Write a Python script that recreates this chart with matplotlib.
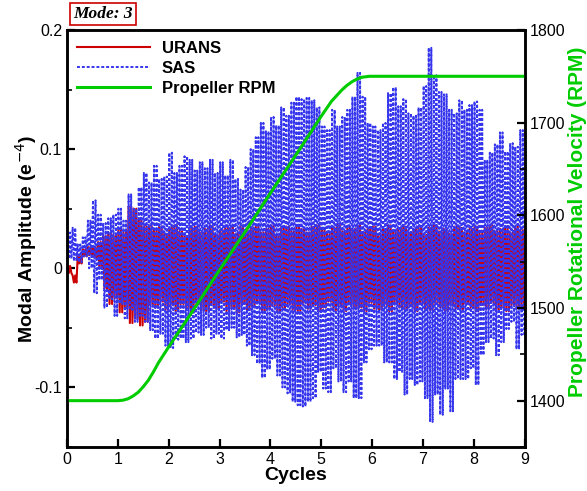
import numpy as np
import matplotlib
matplotlib.use('Agg')
import matplotlib.pyplot as plt
from matplotlib.ticker import MultipleLocator

plt.rcParams['font.family'] = ['Liberation Sans', 'DejaVu Sans']

# envelope read every 0.1 cycle: peak and trough of the oscillations in that window
window = 0.1
osc_per_window = 2

sas_peak = [0.030, 0.034, 0.020, 0.026, 0.040, 0.057, 0.045, 0.038, 0.042, 0.045,
            0.050, 0.040, 0.062, 0.050, 0.068, 0.080, 0.072, 0.086, 0.075, 0.077,
            0.097, 0.080, 0.086, 0.094, 0.091, 0.082, 0.089, 0.084, 0.091, 0.080,
            0.089, 0.078, 0.091, 0.075, 0.066, 0.085, 0.100, 0.110, 0.122, 0.115,
            0.127, 0.120, 0.135, 0.128, 0.139, 0.144, 0.142, 0.143, 0.141, 0.135,
            0.119, 0.116, 0.133, 0.119, 0.127, 0.133, 0.144, 0.164, 0.144, 0.122,
            0.119, 0.116, 0.122, 0.147, 0.152, 0.136, 0.142, 0.130, 0.128, 0.135,
            0.153, 0.185, 0.162, 0.148, 0.146, 0.133, 0.130, 0.141, 0.133, 0.137,
            0.140, 0.133, 0.091, 0.097, 0.104, 0.114, 0.098, 0.105, 0.102, 0.116]
sas_trough = [0.008, 0.006, 0.005, 0.010, 0.000, -0.021, -0.010, -0.033, -0.026, -0.040,
              -0.030, -0.042, -0.035, -0.045, -0.040, -0.045, -0.052, -0.059, -0.055, -0.065,
              -0.067, -0.060, -0.059, -0.062, -0.059, -0.054, -0.056, -0.050, -0.059, -0.055,
              -0.059, -0.052, -0.050, -0.058, -0.056, -0.065, -0.073, -0.080, -0.092, -0.085,
              -0.076, -0.090, -0.100, -0.105, -0.112, -0.115, -0.116, -0.112, -0.109, -0.087,
              -0.101, -0.104, -0.084, -0.095, -0.104, -0.095, -0.109, -0.109, -0.079, -0.068,
              -0.065, -0.065, -0.079, -0.079, -0.093, -0.087, -0.106, -0.093, -0.098, -0.095,
              -0.109, -0.129, -0.106, -0.123, -0.101, -0.120, -0.093, -0.093, -0.093, -0.084,
              -0.098, -0.073, -0.062, -0.059, -0.073, -0.062, -0.051, -0.045, -0.068, -0.056]

urans_peak = [0.002, -0.006, 0.010, 0.016, 0.018, 0.017, 0.022, 0.027, 0.030, 0.028,
              0.033, 0.030, 0.052, 0.050, 0.041, 0.035, 0.036,
              0.032, 0.035, 0.029, 0.034, 0.036, 0.031, 0.027, 0.034, 0.035, 0.030,
              0.033, 0.036, 0.028, 0.032, 0.035, 0.034, 0.029, 0.036, 0.031, 0.034,
              0.035, 0.030, 0.033, 0.036, 0.028, 0.034, 0.035, 0.031, 0.036, 0.033,
              0.030, 0.035, 0.036, 0.032, 0.029, 0.034, 0.037, 0.031, 0.035, 0.033,
              0.036, 0.030, 0.034, 0.035, 0.029, 0.033, 0.036, 0.031, 0.034, 0.035,
              0.030, 0.033, 0.035, 0.028, 0.034, 0.036, 0.031, 0.033, 0.029, 0.035,
              0.034, 0.030, 0.033, 0.035, 0.029, 0.034, 0.036, 0.031, 0.033, 0.034,
              0.030, 0.035, 0.032]
urans_trough = [-0.004, -0.012, 0.004, 0.010, 0.011, 0.009, 0.000, -0.017, -0.030, -0.025,
                -0.037, -0.033, -0.046, -0.042, -0.048, -0.045, -0.031,
                -0.033, -0.028, -0.035, -0.031, -0.036, -0.030, -0.034, -0.037, -0.029, -0.035,
                -0.036, -0.031, -0.034, -0.028, -0.036, -0.033, -0.037, -0.030, -0.035, -0.032,
                -0.029, -0.036, -0.034, -0.031, -0.037, -0.033, -0.030, -0.035, -0.036, -0.029,
                -0.034, -0.031, -0.036, -0.033, -0.028, -0.035, -0.032, -0.036, -0.030, -0.034,
                -0.033, -0.036, -0.029, -0.034, -0.035, -0.031, -0.036, -0.030, -0.033, -0.035,
                -0.032, -0.036, -0.030, -0.034, -0.035, -0.029, -0.033, -0.036, -0.031, -0.034,
                -0.035, -0.030, -0.033, -0.036, -0.031, -0.034, -0.029, -0.035, -0.033, -0.036,
                -0.031, -0.034, -0.033]

rpm_cycles = [0, 1.0, 1.1, 1.2, 1.3, 1.4, 1.5, 1.6, 1.7, 1.8, 1.9, 2.0, 2.5, 3.0, 3.5, 4.0,
              4.5, 5.0, 5.2, 5.4, 5.5, 5.6, 5.7, 5.8, 5.95, 9.0]
rpm = [1400, 1400, 1400.5, 1402, 1405, 1409, 1415, 1422, 1431, 1441, 1449.5, 1458, 1499,
       1541, 1582, 1624, 1665, 1707, 1723, 1735, 1740, 1744, 1747, 1749, 1750, 1750]


def zigzag(peaks, troughs, start=None):
    p = np.repeat(peaks, osc_per_window)
    t = np.repeat(troughs, osc_per_window)
    step = window / osc_per_window
    k = np.arange(len(p))
    x = np.empty(2 * len(p))
    y = np.empty(2 * len(p))
    x[0::2] = k * step + 0.25 * step
    x[1::2] = k * step + 0.75 * step
    y[0::2] = p
    y[1::2] = t
    if start is not None:
        x = np.insert(x, 0, 0.0)
        y = np.insert(y, 0, start)
    return x, y


fig = plt.figure(figsize=(5.87, 4.91), dpi=100)
ax = fig.add_axes([0.114, 0.0896, 0.78, 0.8494])
ax2 = ax.twinx()

xu, yu = zigzag(urans_peak, urans_trough, start=0.0)
xs, ys = zigzag(sas_peak, sas_trough, start=0.02)
l1, = ax.plot(xu, yu, color='#cc0000', lw=1.5, label='URANS')
l2, = ax.plot(xs, ys, color='#3535ee', lw=1.4, linestyle=(0, (1.5, 1.0)), label='SAS')
l3, = ax2.plot(rpm_cycles, rpm, color='#00cc00', lw=2.2, label='Propeller RPM')

ax.set_xlim(0, 9)
ax.set_ylim(-0.15, 0.2)
ax2.set_ylim(1350, 1800)
ax.xaxis.set_major_locator(MultipleLocator(1))
ax.yaxis.set_minor_locator(MultipleLocator(0.05))
ax2.yaxis.set_major_locator(MultipleLocator(100))
ax2.yaxis.set_minor_locator(MultipleLocator(50))
ax.set_yticks([-0.1, 0, 0.1, 0.2])
ax.set_yticklabels(['-0.1', '0', '0.1', '0.2'])

for a in (ax, ax2):
    a.tick_params(which='major', direction='in', length=6, width=1.6, labelsize=11.5)
    a.tick_params(which='minor', direction='in', length=3.5, width=1.2)
    for s in a.spines.values():
        s.set_linewidth(1.8)
ax.tick_params(axis='y', right=False)

ax.set_xlabel('Cycles', fontsize=14, fontweight='bold', labelpad=0)
ax.set_ylabel('Modal Amplitude (e$^{-4}$)', fontsize=14, fontweight='bold')
ax.yaxis.set_label_coords(-0.062, 0.5)
ax2.set_ylabel('Propeller Rotational Velocity (RPM)', fontsize=15, fontweight='bold',
               color='#00cc00')
ax2.yaxis.set_label_coords(1.094, 0.54)

ax2.legend(handles=[l1, l2, l3], loc='upper left', bbox_to_anchor=(0.007, 0.99),
           borderaxespad=0, frameon=False, handlelength=4.4, handletextpad=0.7,
           labelspacing=0.3, prop={'weight': 'bold', 'size': 12})

fig.text(0.125, 0.971, 'Mode: 3', family='Liberation Serif', fontsize=12.5,
         fontweight='bold', style='italic', va='center', ha='left',
         bbox=dict(facecolor='white', edgecolor='#cc0000', lw=1.2, pad=2.2))

fig.savefig('out.png', dpi=100)
